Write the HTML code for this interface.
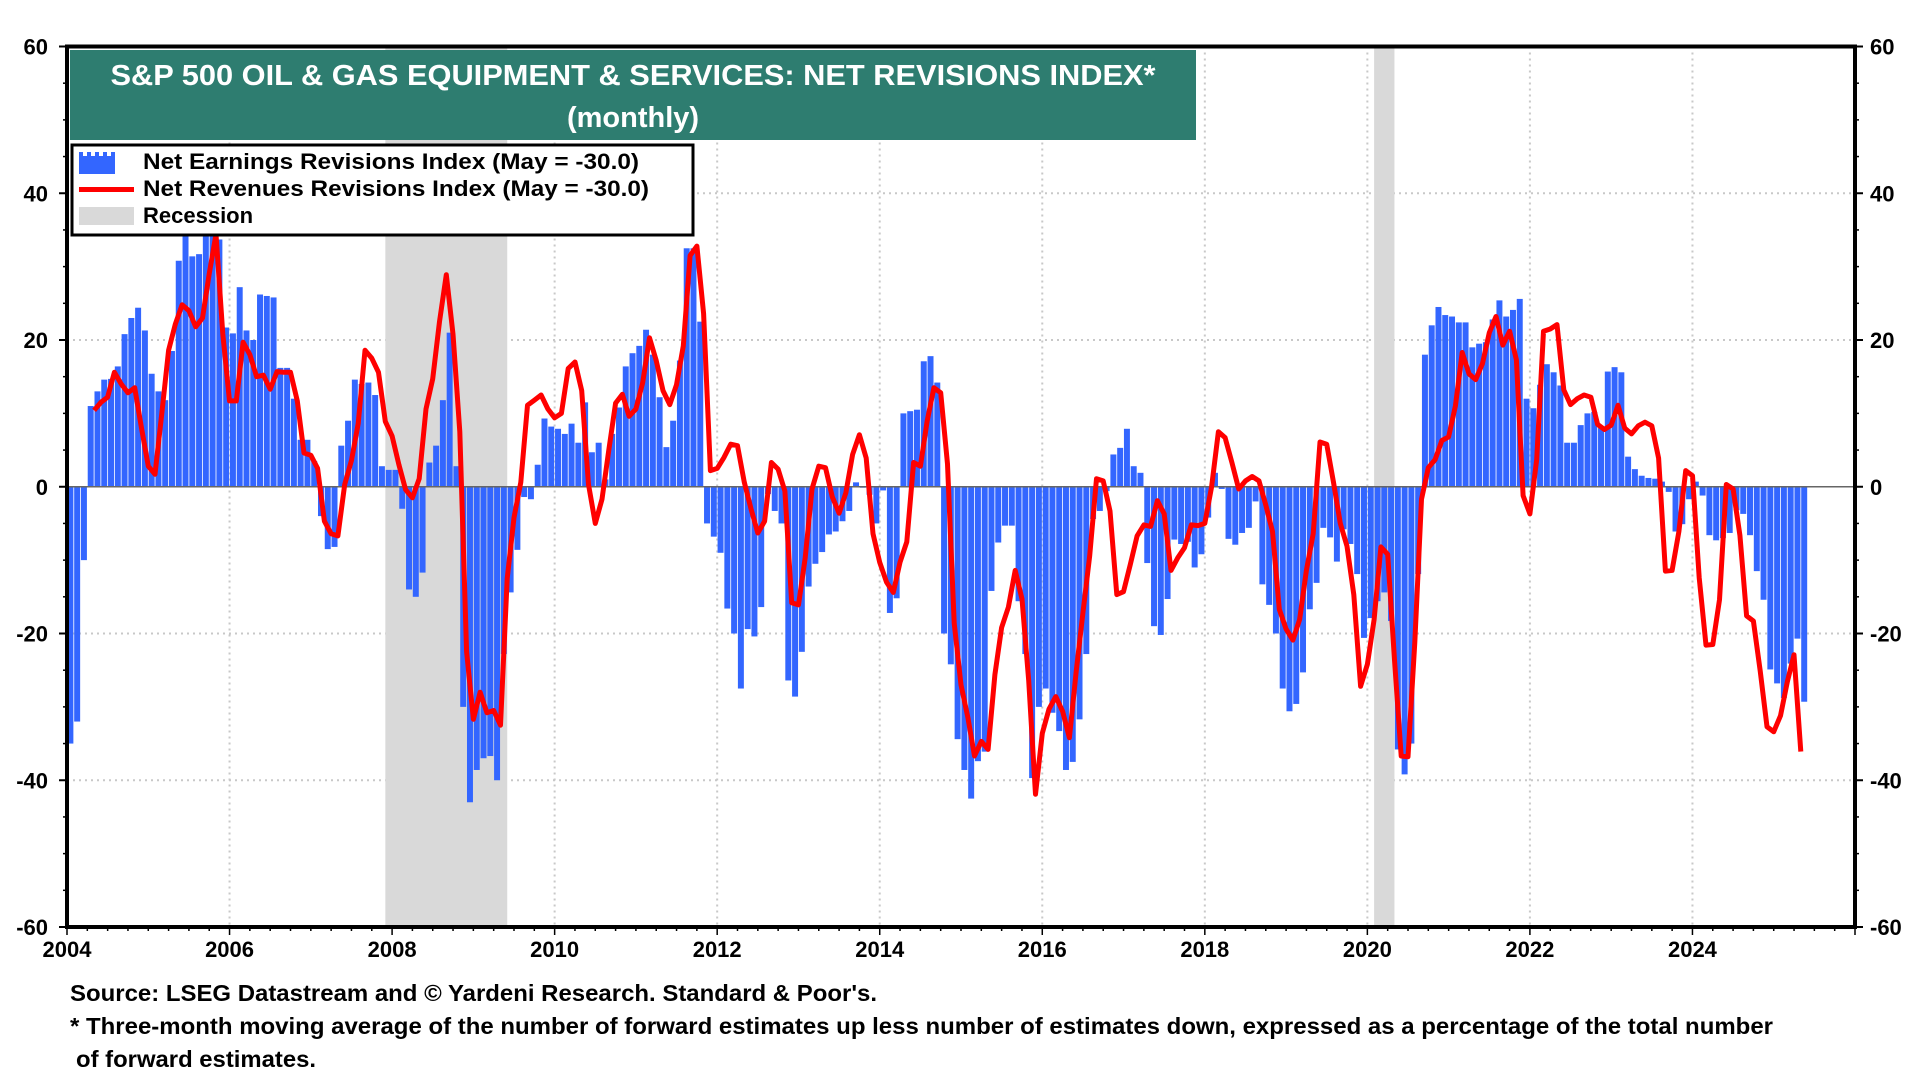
<!DOCTYPE html>
<html><head><meta charset="utf-8"><title>S&amp;P 500 Oil &amp; Gas Equipment &amp; Services: Net Revisions Index</title>
<style>
html,body{margin:0;padding:0;background:#fff;}
svg{display:block;font-family:"Liberation Sans Narrow","Liberation Sans",sans-serif;font-weight:bold;}
</style></head>
<body>
<svg id="chart" width="1920" height="1080" viewBox="0 0 1920 1080" xmlns="http://www.w3.org/2000/svg">
<g id="grid"></g>
<g id="recessions"></g>
<g id="bars"></g>
<line id="zeroline" stroke="#666" stroke-width="1.5"/>
<polyline id="revline" fill="none" stroke="#ff0000" stroke-width="5" stroke-linejoin="round"/>
<g id="axes"></g>
<g>
<rect x="70" y="50" width="1126" height="90" fill="#2e7d70"/>
<text x="633" y="85" fill="#fff" font-size="29" text-anchor="middle" textLength="1045" lengthAdjust="spacingAndGlyphs">S&amp;P 500 OIL &amp; GAS EQUIPMENT &amp; SERVICES: NET REVISIONS INDEX*</text>
<text x="633" y="127" fill="#fff" font-size="29" text-anchor="middle">(monthly)</text>
</g>
<g>
<rect x="72" y="145" width="621" height="90" fill="#fff" stroke="#000" stroke-width="3"/>
<g>
<path d="M79,152 h4 v4 h4 v-4 h4 v4 h4 v-4 h4 v4 h4 v-4 h4 v4 h4 v-4 h4 v22 h-36 z" fill="#3366ff"/>
<text x="143" y="169" font-size="22" textLength="496" lengthAdjust="spacingAndGlyphs">Net Earnings Revisions Index (May  = -30.0)</text>
</g>
<g>
<rect x="79" y="187" width="55" height="5" fill="#ff0000"/>
<text x="143" y="196" font-size="22" textLength="506" lengthAdjust="spacingAndGlyphs">Net Revenues Revisions Index (May  = -30.0)</text>
</g>
<g>
<rect x="79" y="207" width="55" height="18" fill="#d9d9d9"/>
<text x="143" y="223" font-size="22">Recession</text>
</g>
</g>
<g>
<text x="70" y="1001" font-size="23" textLength="807" lengthAdjust="spacingAndGlyphs">Source: LSEG Datastream and © Yardeni Research. Standard &amp; Poor's.</text>
<text x="70" y="1034" font-size="23" textLength="1703" lengthAdjust="spacingAndGlyphs">* Three-month moving average of the number of forward estimates up less number of estimates down, expressed as a percentage of the total number</text>
<text x="76" y="1067" font-size="23" textLength="240" lengthAdjust="spacingAndGlyphs">of forward estimates.</text>
</g>
</svg>
<script>
const earnings = [
-35,-32,-10,11,13,14.6,14.7,16.4,20.8,23,24.4,21.3,
15.4,13,11.8,18.5,30.8,36,31.4,31.7,36,35,33.7,21.7,
20.9,27.2,21.3,20,26.2,26,25.8,16.2,16.2,12,6.4,6.4,
3.5,-4,-8.5,-8.2,5.6,9,14.6,14,14.2,12.5,2.8,2.3,
2.3,-3,-14,-15,-11.7,3.3,5.6,11.8,21,2.8,-30,-43,
-38.6,-37,-36.7,-40,-22.8,-14.4,-8.6,-1.4,-1.7,3,9.3,8.2,
7.9,7.2,8.6,6,11.5,4.7,6,1,7.2,10.8,16.4,18.2,
19.2,21.4,18,12.2,5.4,9,17.2,32.5,32.5,22.5,-5,-6.8,
-9,-16.6,-20,-27.5,-19.4,-20.4,-16.4,-1,-3.3,-5,-26.4,-28.6,
-22.5,-13.6,-10.5,-8.9,-6.5,-6.1,-4.7,-3.3,0.6,0,-1.1,-5,
-0.5,-17.2,-15.2,10,10.3,10.5,17.1,17.8,14.2,-20,-24.2,-34.4,
-38.6,-42.5,-37.4,-36.1,-14.2,-7.6,-5.3,-5.3,-15.6,-22.8,-39.7,-30,
-27.5,-30.8,-33.3,-38.6,-37.5,-31.7,-22.8,-4.4,-3.3,-0.6,4.4,5.3,
7.9,2.8,1.9,-10.4,-19,-20.2,-15.3,-7.2,-7.8,-7.5,-11,-9.2,
-4.2,1.9,-0.3,-7.1,-7.9,-6.3,-5.6,-2,-13.3,-16.1,-20,-27.5,
-30.6,-29.6,-25.3,-16.7,-13.1,-5.6,-6.9,-10.2,-5.8,-7.8,-11.9,-20.6,
-17.9,-15.6,-14.4,-18.3,-35.8,-39.2,-35,-11.9,18,22,24.5,23.4,
23.2,22.4,22.4,19,19.5,19.7,22.8,25.4,23.2,24.1,25.6,12,
10.7,13.9,16.7,15.6,13.8,6,6,8.4,10,10.2,8,15.7,
16.3,15.6,4.1,2.4,1.5,1.2,1.1,0.7,-0.7,-6.1,-5.1,-1.7,
0.7,-1.2,-6.6,-7.3,-7,-6.3,-3.2,-3.7,-6.6,-11.5,-15.4,-24.9,
-26.8,-28.8,-24.1,-20.7,-29.3
];
const revStart = 4;
const revenues = [
10.4,11.5,12.2,15.6,14,12.8,13.5,8,2.8,1.7,10,18.6,
22.2,24.8,24,21.8,23,29,34.4,20.8,11.7,11.7,19.7,18,
15,15.2,13.3,15.7,15.6,15.6,11.7,4.6,4.3,2.5,-4.7,-6.4,
-6.7,0.3,3.6,8.6,18.6,17.5,15.6,8.9,6.9,3,-0.4,-1.5,
1.1,10.6,14.7,22.5,28.9,20.8,7.5,-22.5,-31.7,-28,-30.8,-30.5,
-32.5,-12.5,-4.2,0.6,11.1,11.8,12.5,10.6,9.4,10,16.1,17,
13.1,0.3,-5,-1.7,5,11.4,12.6,9.6,10.6,14.2,20.3,17.2,
13.1,11.2,13.9,19.2,31.5,32.8,23.6,2.2,2.5,4,5.8,5.6,
0.6,-3,-6.3,-4.7,3.3,2.4,-0.6,-15.8,-16.1,-9.7,-0.3,2.8,
2.6,-1.4,-3.6,-0.8,4.4,7.1,3.9,-6.4,-10.3,-13,-14.4,-10.3,
-7.5,3.3,2.8,8.9,13.5,12.8,3.1,-18.6,-27,-31.4,-36.7,-34.7,
-35.8,-25.6,-19.2,-16.4,-11.4,-15.3,-26.4,-41.9,-33.6,-30.3,-28.6,-30.6,
-34.2,-25.3,-17.2,-9.4,1.1,0.8,-3.3,-14.7,-14.3,-10.6,-6.7,-5.2,
-5.4,-1.9,-3.7,-11.4,-9.7,-8.3,-5.2,-5.3,-5,0,7.5,6.7,
3.3,-0.3,0.8,1.4,0.8,-2.5,-6.1,-16.7,-19.4,-20.9,-18.1,-11.4,
-6.4,6.1,5.8,0.6,-5,-8.1,-14.7,-27.2,-24.2,-18.1,-8.2,-9.2,
-23.6,-36.7,-36.8,-21.2,-1.7,2.6,3.7,6.3,6.8,11,18.3,15.4,
14.6,16.8,21,23.2,19.3,21.2,17.3,-1.2,-3.7,3.7,21.2,21.5,
22.1,13.2,11.2,12,12.5,12.2,8.5,7.8,8.4,11.1,8,7.2,
8.3,8.8,8.3,3.9,-11.5,-11.4,-6.1,2.2,1.5,-12.4,-21.6,-21.5,
-15.4,0.3,-0.3,-6.6,-17.6,-18.3,-25.1,-32.7,-33.4,-31.2,-26.6,-22.9,-36.1
];
const recessionStarts = [2007.917, 2020.083];
const recessionEnds = [2009.417, 2020.333];
const yTicks = [60, 40, 20, 0, -20, -40, -60];
const xTicks = [2004, 2006, 2008, 2010, 2012, 2014, 2016, 2018, 2020, 2022, 2024];

const NS = "http://www.w3.org/2000/svg";
const L = 67, R = 1855, T = 46.5, B = 927;
const X0 = 2004, X1 = 2026, Y0 = -60, Y1 = 60;
function xs(yr){ return L + (yr - X0) / (X1 - X0) * (R - L); }
function ys(v){ return B - (v - Y0) / (Y1 - Y0) * (B - T); }
function xm(i){ return xs(X0 + i / 12); }
function mk(tag, attrs, parent){ const e = document.createElementNS(NS, tag); for (const k in attrs) e.setAttribute(k, attrs[k]); parent.appendChild(e); return e; }

const grid = document.getElementById('grid');
yTicks.forEach(v => {
  if (v === 60 || v === -60 || v === 0) return;
  const g = mk('line', {x1: L, x2: R, y1: ys(v), y2: ys(v), stroke: '#c8c8c8', 'stroke-width': 2, 'stroke-dasharray': '2,4'}, grid);
  
  
});
xTicks.forEach(yr => {
  if (yr === 2004) return;
  const g = mk('line', {x1: xs(yr), x2: xs(yr), y1: T, y2: B, stroke: '#c8c8c8', 'stroke-width': 2, 'stroke-dasharray': '2,4'}, grid);
  
  
});

const rec = document.getElementById('recessions');
recessionStarts.forEach((s, k) => {
  const r = mk('rect', {x: xs(s), y: T, width: xs(recessionEnds[k]) - xs(s), height: B - T, fill: '#d9d9d9'}, rec);
  
  
});

const bars = document.getElementById('bars');
const bw = xm(1) - xm(0);
earnings.forEach((v, i) => {
  const y0 = ys(0), y1 = ys(v);
  const b = mk('rect', {x: xm(i) + 0.4, y: Math.min(y0, y1), width: bw - 0.8, height: Math.max(1, Math.abs(y1 - y0)), fill: '#3366ff'}, bars);
  
  
});

const zl = document.getElementById('zeroline');
zl.setAttribute('x1', L); zl.setAttribute('x2', R);
zl.setAttribute('y1', ys(0)); zl.setAttribute('y2', ys(0));

document.getElementById('revline').setAttribute('points',
  revenues.map((v, k) => xm(revStart + k).toFixed(1) + ',' + ys(v).toFixed(1)).join(' '));

const ax = document.getElementById('axes');
mk('rect', {x: L, y: T, width: R - L, height: B - T, fill: 'none', stroke: '#000', 'stroke-width': 4}, ax);
yTicks.forEach(v => {
  const tl = mk('text', {x: 48, y: ys(v) + 8, 'font-size': 22, 'text-anchor': 'end'}, ax);
  tl.textContent = v;
  
  
  const tr = mk('text', {x: 1870, y: ys(v) + 8, 'font-size': 22, 'text-anchor': 'start'}, ax);
  tr.textContent = v;
  
  
  mk('line', {x1: L - 8, x2: L, y1: ys(v), y2: ys(v), stroke: '#000', 'stroke-width': 2}, ax);
  mk('line', {x1: R, x2: R + 8, y1: ys(v), y2: ys(v), stroke: '#000', 'stroke-width': 2}, ax);
});
for (let v = -55; v < 60; v += 5) {
  mk('line', {x1: L - 4, x2: L, y1: ys(v), y2: ys(v), stroke: '#000', 'stroke-width': 1.5}, ax);
  mk('line', {x1: R, x2: R + 4, y1: ys(v), y2: ys(v), stroke: '#000', 'stroke-width': 1.5}, ax);
}
for (let q = 0; q <= 88; q++) {
  const x = xs(X0 + q / 4);
  mk('line', {x1: x, x2: x, y1: B, y2: B + (q % 8 === 0 ? 8 : 4), stroke: '#000', 'stroke-width': 1.5}, ax);
}
xTicks.forEach(yr => {
  const t = mk('text', {x: xs(yr), y: 957, 'font-size': 22, 'text-anchor': 'middle'}, ax);
  t.textContent = yr;
  
  
});
</script>
</body></html>
